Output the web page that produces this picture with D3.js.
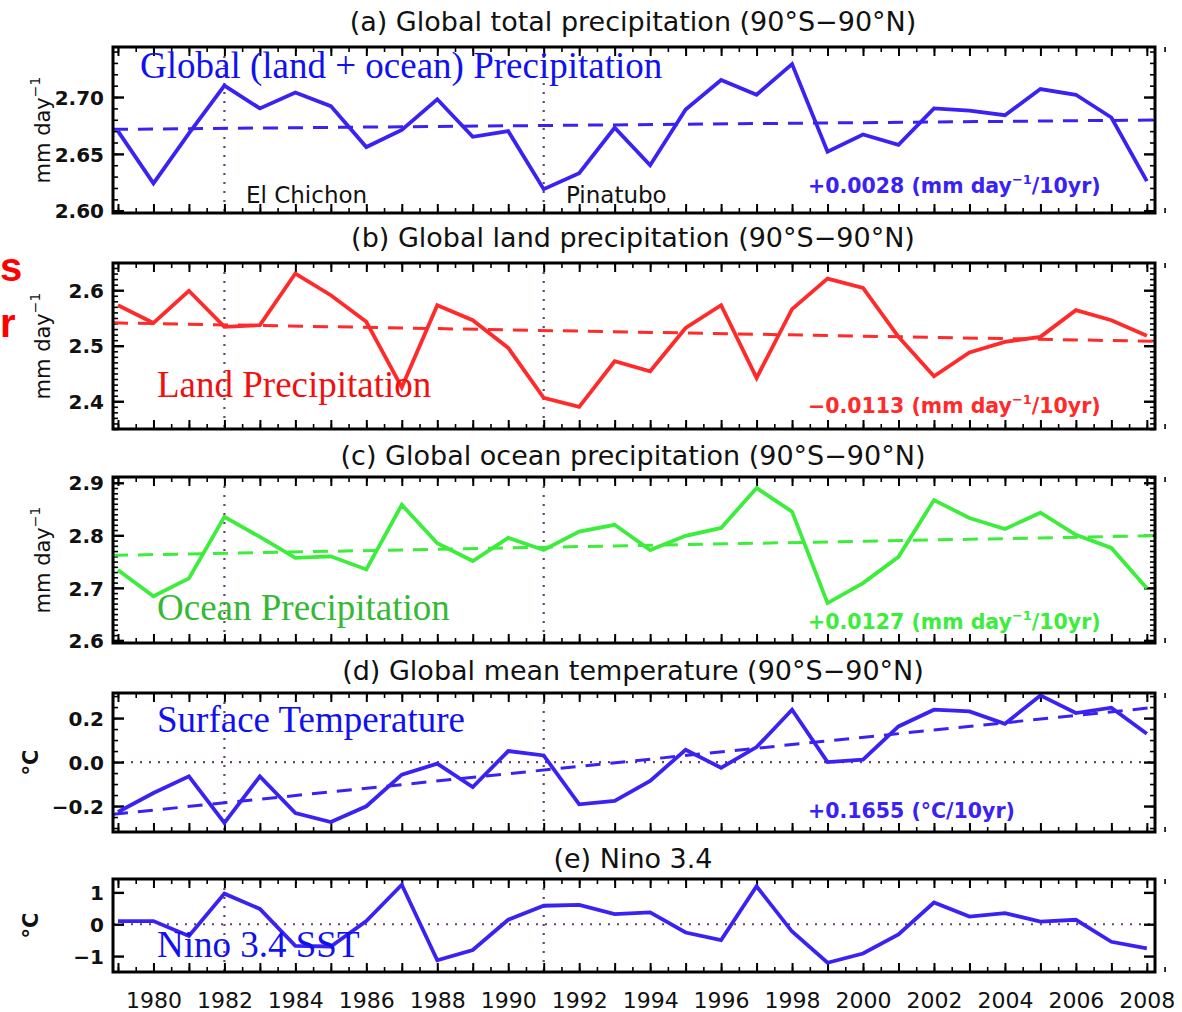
<html>
<head>
<meta charset="utf-8">
<script src="https://cdnjs.cloudflare.com/ajax/libs/d3/7.8.5/d3.min.js"></script>
<style>
  body { margin: 0; background: #fff; }
  svg text { font-family: "DejaVu Sans", sans-serif; }
  .axis path { display: none; }
  .axis line { stroke: #000; stroke-width: 1.6; }
  .ylab text { font-size: 20px; font-weight: bold; fill: #111; }
</style>
</head>
<body>
<svg id="chart"></svg>
<script>

var width = 1182,
    height = 1012;

// ---- data ----
var years = d3.range(1979, 2009);

var totalPrecip = [2.670, 2.624, 2.668, 2.710, 2.690, 2.704, 2.692, 2.656, 2.671, 2.698,
                   2.665, 2.670, 2.619, 2.633, 2.673, 2.640, 2.689, 2.715, 2.702, 2.729,
                   2.652, 2.667, 2.658, 2.690, 2.688, 2.684, 2.707, 2.702, 2.682, 2.626];

var landPrecip = [2.573, 2.541, 2.599, 2.534, 2.537, 2.630, 2.591, 2.543, 2.425, 2.573,
                  2.546, 2.496, 2.406, 2.390, 2.472, 2.454, 2.532, 2.573, 2.442, 2.566,
                  2.621, 2.604, 2.516, 2.445, 2.488, 2.507, 2.516, 2.564, 2.546, 2.518];

var oceanPrecip = [2.734, 2.684, 2.718, 2.835, 2.797, 2.757, 2.760, 2.735, 2.858, 2.785,
                   2.751, 2.795, 2.772, 2.807, 2.820, 2.772, 2.799, 2.814, 2.890, 2.845,
                   2.671, 2.709, 2.759, 2.867, 2.833, 2.812, 2.843, 2.801, 2.776, 2.699];

var globalTemp = [-0.227, -0.141, -0.065, -0.277, -0.065, -0.232, -0.273, -0.201, -0.057, -0.007,
                  -0.114, 0.050, 0.030, -0.192, -0.177, -0.086, 0.056, -0.026, 0.068, 0.238,
                  0.000, 0.011, 0.162, 0.238, 0.230, 0.174, 0.303, 0.223, 0.247, 0.129];

var nino34 = [0.10, 0.10, -0.37, 0.96, 0.48, -0.68, -0.70, 0.10, 1.24, -1.13,
              -0.81, 0.14, 0.58, 0.61, 0.32, 0.37, -0.26, -0.50, 1.19, -0.23,
              -1.21, -0.92, -0.32, 0.68, 0.24, 0.35, 0.08, 0.14, -0.55, -0.76];

// trend: value in 1979 and change per decade
var trendStart = [2.6716, 2.541, 2.762, -0.235];
var trendPerDecade = [0.0028, -0.0113, 0.0127, 0.1655];
var trendLabels = ["+0.0028", "\u22120.0113", "+0.0127", "+0.1655"];

var titles = ["(a) Global total precipitation (90\u00b0S\u221290\u00b0N)",
              "(b) Global land precipitation (90\u00b0S\u221290\u00b0N)",
              "(c) Global ocean precipitation (90\u00b0S\u221290\u00b0N)",
              "(d) Global mean temperature (90\u00b0S\u221290\u00b0N)",
              "(e) Nino 3.4"];

var overlayLabels = ["Global (land + ocean) Precipitation", "Land Precipitation",
                     "Ocean Precipitation", "Surface Temperature", "Nino 3.4 SST"];

var volcanoYears = [1982, 1991];
var volcanoNames = ["El Chichon", "Pinatubo"];
var xLabelYears = d3.range(1980, 2009, 2);

// ---- layout ----
var left = 113, right = 1155;

var panels = [
  {series: totalPrecip, top: 47, bottom: 213, domain: [2.598, 2.744], ticks: [2.60, 2.65, 2.70], minor: 0.01, fmt: ".2f",
   color: "#3a22f5", unit: "mm", labelColor: "#1010f0", labelX: 140, labelY: 78, trendY: 193},
  {series: landPrecip, top: 263, bottom: 429, domain: [2.350, 2.649], ticks: [2.4, 2.5, 2.6], minor: 0.01, fmt: ".1f",
   color: "#ff2a2a", unit: "mm", labelColor: "#f01010", labelX: 157, labelY: 397, trendY: 413},
  {series: oceanPrecip, top: 477, bottom: 643, domain: [2.595, 2.911], ticks: [2.6, 2.7, 2.8, 2.9], minor: 0.01, fmt: ".1f",
   color: "#3ced3c", unit: "mm", labelColor: "#36b836", labelX: 157, labelY: 620, trendY: 629},
  {series: globalTemp, top: 693, bottom: 832, domain: [-0.318, 0.314], ticks: [-0.2, 0.0, 0.2], minor: 0.05, fmt: ".1f",
   color: "#3a22f5", unit: "C", labelColor: "#1010f0", labelX: 157, labelY: 732, trendY: 818, zero: true},
  {series: nino34, top: 879, bottom: 972, domain: [-1.5, 1.42], ticks: [-1, 0, 1], minor: null, fmt: "d",
   color: "#3a22f5", unit: "C", labelColor: "#1010f0", labelX: 157, labelY: 957, zero: true}
];

var titleY = [31, 247, 465, 680, 868];

var svg = d3.select("#chart")
    .attr("width", width)
    .attr("height", height);

var x = d3.scaleLinear()
    .domain([1978.86, 2008.23])
    .range([left, right]);

var halfYears = d3.range(1979, 2008.6, 0.5);

panels.forEach(function(p, i) {
  var y = d3.scaleLinear().domain(p.domain).range([p.bottom, p.top]);
  var g = svg.append("g");

  // title
  svg.append("text")
      .attr("x", 633).attr("y", titleY[i])
      .attr("text-anchor", "middle")
      .style("font-size", "27px")
      .style("fill", "#111")
      .text(titles[i]);

  // volcano dotted lines
  volcanoYears.forEach(function(v) {
    g.append("line")
        .attr("x1", x(v)).attr("x2", x(v))
        .attr("y1", p.top).attr("y2", p.bottom)
        .attr("stroke", "#6e3f6e").attr("stroke-width", 2.2)
        .attr("stroke-dasharray", "2,7");
  });

  if (p.zero) {
    g.append("line")
        .attr("x1", left).attr("x2", right)
        .attr("y1", y(0)).attr("y2", y(0))
        .attr("stroke", "#6e3f6e").attr("stroke-width", 2.2)
        .attr("stroke-dasharray", "2,7");
  }

  // x ticks (inward), top and bottom
  [[d3.axisBottom, p.bottom], [d3.axisTop, p.top]].forEach(function(a) {
    g.append("g").attr("class", "axis")
        .attr("transform", "translate(0," + a[1] + ")")
        .call(a[0](x).tickValues(halfYears).tickSize(-5).tickFormat(""));
    g.append("g").attr("class", "axis")
        .attr("transform", "translate(0," + a[1] + ")")
        .call(a[0](x).tickValues(years).tickSize(-9).tickFormat(""))
        .selectAll("line").style("stroke-width", 2);
  });

  // y ticks: minor then major, left and right
  var minorVals = p.minor ? d3.range(Math.ceil(p.domain[0] / p.minor) * p.minor, p.domain[1], p.minor) : [];
  [[d3.axisLeft, left], [d3.axisRight, right]].forEach(function(a) {
    if (minorVals.length) {
      g.append("g").attr("class", "axis")
          .attr("transform", "translate(" + a[1] + ",0)")
          .call(a[0](y).tickValues(minorVals).tickSize(-5).tickFormat(""));
    }
    g.append("g").attr("class", "axis")
        .attr("transform", "translate(" + a[1] + ",0)")
        .call(a[0](y).tickValues(p.ticks).tickSize(-11).tickFormat(""))
        .selectAll("line").style("stroke-width", 2.4);
  });

  // y tick labels
  g.append("g").attr("class", "axis ylab")
      .attr("transform", "translate(" + left + ",0)")
      .call(d3.axisLeft(y).tickValues(p.ticks).tickSize(0).tickPadding(9).tickFormat(d3.format(p.fmt)))
      .selectAll("text").attr("dy", "0.36em");

  // y axis title
  var yt = g.append("text")
      .attr("transform", "translate(" + (p.unit === "mm" ? 50 : 38) + "," + ((p.top + p.bottom) / 2) + ") rotate(-90)")
      .attr("text-anchor", "middle")
      .style("font-size", "21px")
      .style("fill", "#111");
  if (p.unit === "mm") {
    yt.append("tspan").text("mm day");
    yt.append("tspan").attr("dy", -10).style("font-size", "14px").text("\u22121");
  } else {
    yt.style("font-weight", "bold").text("\u00b0C");
  }

  // overlay label (Times)
  svg.append("text")
      .attr("x", p.labelX).attr("y", p.labelY)
      .style("font-family", "'Liberation Serif', 'Times New Roman', serif")
      .style("font-size", "37px")
      .style("fill", p.labelColor)
      .text(overlayLabels[i]);

  // trend line
  if (i < 4) {
    var slope = trendPerDecade[i] / 10;
    var trend = x.domain().map(function(yr) { return [yr, trendStart[i] + slope * (yr - 1979)]; });
    g.append("path")
        .datum(trend)
        .attr("fill", "none")
        .attr("stroke", p.color)
        .attr("stroke-width", 3)
        .attr("stroke-dasharray", "15,10")
        .attr("d", d3.line().x(function(d) { return x(d[0]); }).y(function(d) { return y(d[1]); }));

    var tt = svg.append("text")
        .attr("x", 808).attr("y", p.trendY)
        .style("font-size", "20.5px")
        .style("font-weight", "bold")
        .style("fill", p.color);
    if (p.unit === "mm") {
      tt.append("tspan").text(trendLabels[i] + " (mm day");
      tt.append("tspan").attr("dy", -9).style("font-size", "13px").text("\u22121");
      tt.append("tspan").attr("dy", 9).text("/10yr)");
    } else {
      tt.text(trendLabels[i] + " (\u00b0C/10yr)");
    }
  }

  // data line
  g.append("path")
      .datum(p.series)
      .attr("fill", "none")
      .attr("stroke", p.color)
      .attr("stroke-width", 3.8)
      .attr("stroke-linejoin", "miter")
      .attr("d", d3.line().x(function(d, j) { return x(years[j]); }).y(function(d) { return y(d); }));

  // frame
  g.append("rect")
      .attr("x", left).attr("y", p.top)
      .attr("width", right - left).attr("height", p.bottom - p.top)
      .attr("fill", "none").attr("stroke", "#000").attr("stroke-width", 3);
});

// volcano names in panel (a)
var volX = [246, 566];
volcanoNames.forEach(function(n, i) {
  svg.append("text")
      .attr("x", volX[i]).attr("y", 203)
      .style("font-size", "23px")
      .style("fill", "#111")
      .text(n);
});

// x axis year labels under panel (e)
svg.append("g").attr("class", "axis ylab")
    .attr("transform", "translate(0,972)")
    .call(d3.axisBottom(x).tickValues(xLabelYears).tickSize(0).tickPadding(20).tickFormat(d3.format("d")))
    .selectAll("text").style("font-weight", "normal").style("font-size", "22px");

// red letters at the left edge (from a cropped slide)
svg.append("text").attr("x", 0).attr("y", 281)
    .style("font-family", "'Liberation Sans', Arial, sans-serif")
    .style("font-weight", "bold").style("font-size", "40px").style("fill", "#f00").text("s");
svg.append("text").attr("x", 0).attr("y", 337)
    .style("font-family", "'Liberation Sans', Arial, sans-serif")
    .style("font-weight", "bold").style("font-size", "40px").style("fill", "#f00").text("r");

</script>
</body>
</html>
